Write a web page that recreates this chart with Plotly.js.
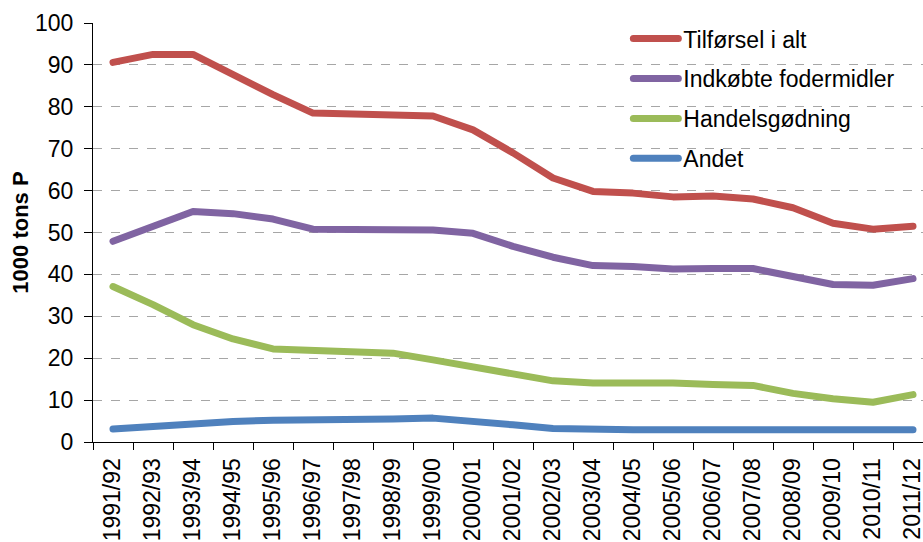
<!DOCTYPE html>
<html>
<head>
<meta charset="utf-8">
<script src="https://cdn.plot.ly/plotly-3.0.1.min.js"></script>
<style>
html,body{margin:0;padding:0;background:#fff;}
#chart{width:923px;height:542px;}
.js-line{stroke-linecap:round;stroke-linejoin:round;}
</style>
</head>
<body>
<div id="chart"></div>
<script>
var years = ["1991/92","1992/93","1993/94","1994/95","1995/96","1996/97","1997/98","1998/99","1999/00","2000/01","2001/02","2002/03","2003/04","2004/05","2005/06","2006/07","2007/08","2008/09","2009/10","2010/11","2011/12"];
var tilforsel = [90.6, 92.5, 92.5, 87.6, 82.9, 78.5, 78.2, 78.0, 77.8, 74.5, 69.0, 63.0, 59.8, 59.4, 58.5, 58.7, 58.0, 55.9, 52.2, 50.8, 51.5];
var indkobte = [47.9, 51.4, 55.0, 54.5, 53.2, 50.8, 50.6, 50.6, 50.6, 49.8, 46.7, 44.1, 42.1, 41.9, 41.3, 41.4, 41.4, 39.5, 37.6, 37.4, 39.0];
var handels = [37.1, 32.8, 28.0, 24.6, 22.2, 22.0, 21.8, 21.2, 19.6, 17.9, 15.9, 14.6, 14.1, 14.3, 14.1, 13.7, 13.5, 11.6, 10.3, 9.5, 11.3];
var andet = [3.1, 3.7, 4.5, 4.9, 5.2, 5.2, 5.5, 5.5, 5.7, 5.1, 4.1, 3.2, 2.9, 2.9, 2.9, 2.9, 2.9, 2.9, 2.9, 2.9, 2.9];

var seriesNames = ["Tilførsel i alt", "Indkøbte fodermidler", "Handelsgødning", "Andet"];
var seriesColors = ["#C0504D", "#8064A2", "#9BBB59", "#4F81BD"];
var seriesData = [tilforsel, indkobte, handels, andet];

var traces = seriesData.map(function(d, i){
  return {
    x: years, y: d, type: "scatter", mode: "lines",
    name: seriesNames[i], legendgroup: "g" + i,
    line: {color: seriesColors[i], width: 7},
    hoverinfo: "skip"
  };
});

var font = "Liberation Sans, Arial, sans-serif";
var layout = {
  width: 923, height: 542,
  margin: {l: 93, r: 0, t: 23, b: 100, pad: 0},
  paper_bgcolor: "#fff", plot_bgcolor: "#fff",
  font: {family: font, size: 23, color: "#000"},
  showlegend: true,
  legend: {
    x: 0.645, y: 1.014, xanchor: "left", yanchor: "top",
    bgcolor: "rgba(0,0,0,0)", borderwidth: 0,
    font: {family: font, size: 23, color: "#000"},
    traceorder: "grouped", tracegroupgap: 7, itemwidth: 45
  },
  xaxis: {
    type: "category", range: [-0.5, 20.25],
    tickangle: -90, tickson: "boundaries",
    ticks: "outside", ticklen: 7, tickcolor: "#000", tickwidth: 1,
    ticklabelstandoff: 6,
    showline: true, linecolor: "#000", linewidth: 1,
    showgrid: false, zeroline: false,
    tickfont: {family: font, size: 23, color: "#000"},
    fixedrange: true
  },
  yaxis: {
    range: [0, 100], dtick: 10, tick0: 0,
    ticks: "outside", ticklen: 8, tickcolor: "#000", tickwidth: 1,
    ticklabelstandoff: 6,
    showline: true, linecolor: "#000", linewidth: 1,
    showgrid: true, gridcolor: "#A6A6A6", griddash: "dash", gridwidth: 1,
    zeroline: false,
    tickfont: {family: font, size: 23, color: "#000"},
    title: {text: "<b>1000 tons P</b>", font: {family: font, size: 22, color: "#000"}, standoff: 0},
    fixedrange: true
  }
};

Plotly.newPlot("chart", traces, layout, {displayModeBar: false, staticPlot: true});
</script>
</body>
</html>
